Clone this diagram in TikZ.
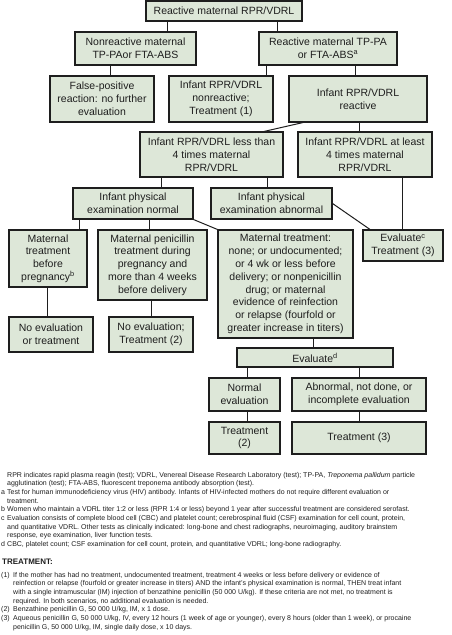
\documentclass[tikz,border=0pt]{standalone}
\usepackage{fontspec}
\setmainfont{Liberation Sans}
\definecolor{boxfill}{RGB}{221,231,216}
\definecolor{ink}{RGB}{30,30,30}
\tikzset{
  box/.style={draw=ink, line width=1.1pt, fill=boxfill, align=center, inner sep=0pt,
    text=ink, font=\fontsize{10.5}{12.8}\selectfont},
  link/.style={draw=ink, line width=1pt},
  fn/.style={anchor=base west, inner sep=0pt, text=ink, font=\fontsize{7}{8.65}\selectfont},
  fnhead/.style={anchor=base west, inner sep=0pt, text=ink, font=\fontsize{8}{9}\selectfont\bfseries}
}
\begin{document}
\begin{tikzpicture}[x=1pt,y=-1pt]
\useasboundingbox (0,0) rectangle (452,635);
% boxes
\node[box, minimum width=156pt, minimum height=20pt] (top) at (224,11) {Reactive maternal RPR/VDRL};
\node[box, minimum width=121pt, minimum height=33pt] (nonr) at (135.5,48.5) {Nonreactive maternal\\TP-PAor FTA-ABS};
\node[box, minimum width=138pt, minimum height=33pt] (reac) at (328,48.5) {Reactive maternal TP-PA\\or FTA-ABS\textsuperscript{a}};
\node[box, minimum width=104pt, minimum height=46pt] (fpos) at (102,99) {False-positive\\reaction: no further\\evaluation};
\node[box, minimum width=104pt, minimum height=46pt] (inr) at (221,99) {Infant RPR/VDRL\\nonreactive;\\Treatment (1)};
\node[box, minimum width=138pt, minimum height=46pt] (ir) at (358,99) {Infant RPR/VDRL\\reactive};
\node[box, minimum width=143pt, minimum height=45pt] (less) at (211.5,154.5) {Infant RPR/VDRL less than\\4 times maternal\\RPR/VDRL};
\node[box, minimum width=134pt, minimum height=45pt] (least) at (365,154.5) {Infant RPR/VDRL at least\\4 times maternal\\RPR/VDRL};
\node[box, minimum width=120pt, minimum height=31pt] (pn) at (133,203.5) {Infant physical\\examination normal};
\node[box, minimum width=121pt, minimum height=31pt] (pa) at (271.5,203.5) {Infant physical\\examination abnormal};
\node[box, minimum width=78pt, minimum height=57pt] (mb) at (48,258.5) {Maternal\\treatment\\before\\pregnancy\textsuperscript{b}};
\node[box, minimum width=109pt, minimum height=70pt] (mp) at (152.5,265) {Maternal penicillin\\treatment during\\pregnancy and\\more than 4 weeks\\before delivery};
\node[box, minimum width=135pt, minimum height=108pt] (mn) at (285.5,284) {Maternal treatment:\\none; or undocumented;\\or 4 wk or less before\\delivery; or nonpenicillin\\drug; or maternal\\evidence of reinfection\\or relapse (fourfold or\\greater increase in titers)};
\node[box, minimum width=80pt, minimum height=31pt] (evc) at (403,245.5) {Evaluate\textsuperscript{c}\\Treatment (3)};
\node[box, minimum width=84pt, minimum height=35pt] (ne1) at (51,334.5) {No evaluation\\or treatment};
\node[box, minimum width=84pt, minimum height=35pt] (ne2) at (151,334.5) {No evaluation;\\Treatment (2)};
\node[box, minimum width=156pt, minimum height=19pt] (evd) at (315,357.5) {Evaluate\textsuperscript{d}};
\node[box, minimum width=71pt, minimum height=33pt] (nev) at (244.5,394.5) {Normal\\evaluation};
\node[box, minimum width=134pt, minimum height=33pt] (aev) at (359,394.5) {Abnormal, not done, or\\incomplete evaluation};
\node[box, minimum width=71pt, minimum height=32pt] (t2) at (244.5,438) {Treatment\\(2)};
\node[box, minimum width=134pt, minimum height=32pt] (t3) at (359,438) {Treatment (3)};
% connectors
\draw[link] (top.south -| 167,0) -- (nonr.north -| 167,0);
\draw[link] (top.south -| 277,0) -- (reac.north -| 277,0);
\draw[link] (nonr.south -| 110,0) -- (fpos.north -| 110,0);
\draw[link] (reac.south -| 266,0) -- (inr.north -| 266,0);
\draw[link] (reac.south -| 355,0) -- (ir.north -| 355,0);
\draw[link] (ir.south -| 303,0) -- (less.north -| 264,0);
\draw[link] (ir.south -| 359,0) -- (least.north -| 359,0);
\draw[link] (less.south -| 161,0) -- (pn.north -| 161,0);
\draw[link] (less.south -| 267,0) -- (pa.north -| 267,0);
\draw[link] (least.south -| 402,0) -- (evc.north -| 402,0);
\draw[link] (pa.east) -- (evc.north -| 370,0);
\draw[link] (pn.south -| 79,0) -- (mb.north -| 79,0);
\draw[link] (pn.south -| 149,0) -- (mp.north -| 149,0);
\draw[link] (pn.south east) -- (mn.north west);
\draw[link] (mb.south -| 47,0) -- (ne1.north -| 47,0);
\draw[link] (mp.south -| 151,0) -- (ne2.north -| 151,0);
\draw[link] (mn.south -| 313,0) -- (evd.north -| 313,0);
\draw[link] (evd.south -| 247,0) -- (nev.north -| 247,0);
\draw[link] (evd.south -| 359,0) -- (aev.north -| 359,0);
\draw[link] (nev.south -| 247,0) -- (t2.north -| 247,0);
\draw[link] (aev.south -| 359,0) -- (t3.north -| 359,0);
% footnotes
\node[fn] (f1) at (7,477.2) {RPR indicates rapid plasma reagin (test); VDRL, Venereal Disease Research Laboratory (test); TP-PA, \textit{Treponema pallidum} particle};
\node[fn] (f2) at (7,485.85) {agglutination (test); FTA-ABS, fluorescent treponema antibody absorption (test).};
\node[fn] (la) at (1,494.5) {a};
\node[fn] (f3) at (7,494.5) {Test for human immunodeficiency virus (HIV) antibody. Infants of HIV-infected mothers do not require different evaluation or};
\node[fn] (f4) at (7,503.15) {treatment.};
\node[fn] (lb) at (1,511.8) {b};
\node[fn] (f5) at (7,511.8) {Women who maintain a VDRL titer 1:2 or less (RPR 1:4 or less) beyond 1 year after successful treatment are considered serofast.};
\node[fn] (lc) at (1,520.45) {c};
\node[fn] (f6) at (7,520.45) {Evaluation consists of complete blood cell (CBC) and platelet count; cerebrospinal fluid (CSF) examination for cell count, protein,};
\node[fn] (f7) at (7,529.1) {and quantitative VDRL. Other tests as clinically indicated: long-bone and chest radiographs, neuroimaging, auditory brainstem};
\node[fn] (f8) at (7,537.75) {response, eye examination, liver function tests.};
\node[fn] (ld) at (1,546.4) {d};
\node[fn] (f9) at (7,546.4) {CBC, platelet count; CSF examination for cell count, protein, and quantitative VDRL; long-bone radiography.};
% treatment
\node[fnhead] (th) at (2,564.6) {TREATMENT:};
\node[fn] (l1) at (1,577.2) {(1)};
\node[fn] (t1a) at (13,577.2) {If the mother has had no treatment, undocumented treatment, treatment 4 weeks or less before delivery or evidence of};
\node[fn] (t1b) at (13,585.87) {reinfection or relapse (fourfold or greater increase in titers) AND the infant's physical examination is normal, THEN treat infant};
\node[fn] (t1c) at (13,594.53) {with a single intramuscular (IM) injection of benzathine penicillin (50 000 U/kg). If these criteria are not met, no treatment is};
\node[fn] (t1d) at (13,603.2) {required. In both scenarios, no additional evaluation is needed.};
\node[fn] (l2) at (1,611.87) {(2)};
\node[fn] (t2a) at (13,611.87) {Benzathine penicillin G, 50 000 U/kg, IM, x 1 dose.};
\node[fn] (l3) at (1,620.53) {(3)};
\node[fn] (t3a) at (13,620.53) {Aqueous penicillin G, 50 000 U/kg, IV, every 12 hours (1 week of age or younger), every 8 hours (older than 1 week), or procaine};
\node[fn] (t3b) at (13,629.2) {penicillin G, 50 000 U/kg, IM, single daily dose, x 10 days.};
\end{tikzpicture}
\end{document}
